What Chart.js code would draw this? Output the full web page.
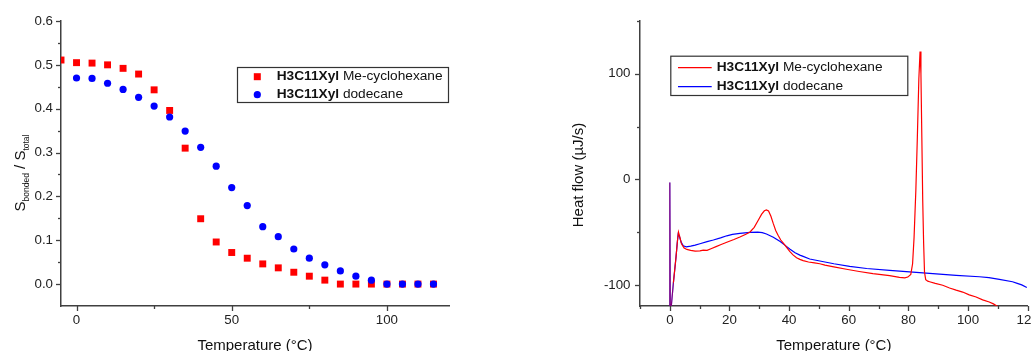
<!DOCTYPE html>
<html><head><meta charset="utf-8">
<script src="https://cdn.jsdelivr.net/npm/chart.js@4.4.0/dist/chart.umd.min.js"></script>
<style>
html,body{margin:0;padding:0;background:#fff;overflow:hidden;width:1032px;height:351px;}
#wrapL{position:absolute;left:0;top:0;width:516px;height:370px;}
#wrapR{position:absolute;left:516px;top:0;width:540px;height:370px;}
</style></head><body>
<div id="wrapL"><canvas id="cL" width="516" height="370"></canvas></div>
<div id="wrapR"><canvas id="cR" width="540" height="370"></canvas></div>
<script>
// ---------- DATA ----------
const seriesNames = ['H3C11Xyl Me-cyclohexane', 'H3C11Xyl dodecane'];

// Left panel: S_bonded / S_total vs temperature
const tempMeCyc = [-5,0,5,10,15,20,25,30,35,40,45,50,55,60,65,70,75,80,85,90,95,100,105,110,115];
const sMeCyc    = [0.511,0.505,0.504,0.500,0.492,0.479,0.443,0.396,0.310,0.149,0.096,0.072,0.059,0.046,0.037,0.027,0.018,0.009,0.000,0.000,0.000,0.000,0.000,0.000,0.000];
const tempDodec = [0,5,10,15,20,25,30,35,40,45,50,55,60,65,70,75,80,85,90,95,100,105,110,115];
const sDodec    = [0.470,0.469,0.458,0.444,0.426,0.406,0.381,0.349,0.312,0.269,0.220,0.179,0.131,0.108,0.080,0.059,0.044,0.030,0.018,0.009,0.000,0.000,0.000,0.000];

// Right panel: heat flow (µJ/s) vs temperature
const dscTempMeCyc = [0,0,0.15,0.5,1.2,2.1,2.6,2.9,3.3,3.9,4.8,5.7,7,8.5,10.1,11.2,12.5,14,15.5,17,19.1,21.5,23.5,25.5,26.9,28.3,29.6,30.8,31.7,32.4,33.1,33.9,34.7,35.5,36.3,37.2,38.2,39.1,40.2,41.3,42.5,43.6,44.7,46.5,48.5,50.3,52,55,59.2,63.5,68.1,73.7,77,78.8,79.8,80.8,81.4,81.9,82.5,83.0,83.5,83.9,84.2,84.5,84.8,85.1,85.4,85.8,86.5,87.1,89,91.5,93.8,96,98.2,100.4,102.7,104.9,107.1,108.5,109.4,110.5];
const dscHeatMeCyc = [-120,-3,-120,-120,-98,-73,-57,-50,-54,-61,-65,-66.4,-67.3,-68,-67.7,-67,-67.3,-65.5,-63.8,-62,-59.6,-57,-54.6,-52,-49.8,-45.5,-39,-33,-29.8,-29,-30,-35,-42,-48.5,-53,-57.5,-61,-64.3,-68.3,-71.6,-74.3,-75.8,-77,-78.3,-79.2,-80,-81.3,-83,-85.2,-87.3,-89.3,-91.3,-92.8,-93.3,-92.6,-90,-80,-55,-10,40,95,121,100,40,-20,-60,-88,-95,-96.5,-97,-98.5,-100.3,-103,-105,-106.8,-109.5,-111.5,-114.2,-116.2,-118,-119.5,-121.5];
const dscTempDodec = [0,0,0.15,0.5,1.2,2.1,2.5,2.8,3.2,3.8,4.5,5.5,7,8.5,10.1,12.5,14.6,17,19.1,21,23.5,26.9,29.5,31,32.4,34.7,37,39.1,40.2,42,43.6,44.7,46.9,50.3,55,60.3,66,73.7,80.4,87.1,96,103.8,107,110.5,114.9,116.5,118,119.7];
const dscHeatDodec = [-120,-3,-120,-120,-98,-73,-60,-52,-54,-59.5,-63,-64,-63.3,-62.3,-61,-59,-57.5,-55.5,-53.5,-52.2,-51.2,-50.3,-50,-50.5,-51.8,-54.8,-59,-63.5,-66,-69.5,-71.8,-73,-75.5,-77.4,-80,-82.5,-84.5,-86.2,-87.6,-89,-91,-92.3,-93.2,-94.8,-97,-98.5,-100,-102.4];

// Ticks
const xTicksL = [0,50,100];           const xTickLabelsL = ['0','50','100'];      const xMinorL = [25,75];
const yTicksL = [0,0.1,0.2,0.3,0.4,0.5,0.6]; const yTickLabelsL = ['0.0','0.1','0.2','0.3','0.4','0.5','0.6'];
const yMinorL = [0.05,0.15,0.25,0.35,0.45,0.55];
const xTicksR = [0,20,40,60,80,100,120]; const xTickLabelsR = ['0','20','40','60','80','100','120'];
const xMinorR = [-10,10,30,50,70,90,110];
const yTicksR = [-100,0,100];         const yTickLabelsR = ['-100','0','100'];    const yMinorR = [-50,50,150];

const xTitle = 'Temperature (°C)';
const yTitleR = 'Heat flow (µJ/s)';

// ---------- STYLE / PLUGINS ----------
const FONT = '"Liberation Sans", Arial, Helvetica, sans-serif';
Chart.defaults.font.family = FONT;
Chart.defaults.color = '#222';
const AXIS = '#404040';

const zip = (xs, ys) => xs.map((x, i) => ({x, y: ys[i]}));

const tickMarks = {
  id: 'tickMarks',
  afterDraw(chart, args, o) {
    const ctx = chart.ctx, a = chart.chartArea, xs = chart.scales.x, ys = chart.scales.y;
    ctx.save(); ctx.strokeStyle = AXIS; ctx.lineWidth = 1.3;
    const dx = (vals, len) => vals.forEach(v => { const p = Math.round(xs.getPixelForValue(v)) + 0.5;
      ctx.beginPath(); ctx.moveTo(p, a.bottom); ctx.lineTo(p, a.bottom + len); ctx.stroke(); });
    const dy = (vals, len) => vals.forEach(v => { const p = Math.round(ys.getPixelForValue(v)) + 0.5;
      ctx.beginPath(); ctx.moveTo(a.left, p); ctx.lineTo(a.left - len, p); ctx.stroke(); });
    dx(o.xMajor, 5); dx(o.xMinor, 3); dy(o.yMajor, 5); dy(o.yMinor, 3);
    ctx.restore();
  }
};

const boxLegend = {
  id: 'boxLegend',
  afterDraw(chart, args, o) {
    const ctx = chart.ctx;
    ctx.save();
    ctx.fillStyle = '#fff'; ctx.fillRect(o.x, o.y, o.w, o.h);
    ctx.strokeStyle = '#333'; ctx.lineWidth = 1.2; ctx.strokeRect(o.x + 0.5, o.y + 0.5, o.w, o.h);
    chart.data.datasets.forEach((ds, i) => {
      const y = o.rows[i];
      const col = o.kind === 'line' ? ds.borderColor : ds.backgroundColor;
      if (o.kind === 'line') {
        ctx.strokeStyle = col; ctx.lineWidth = 1.3;
        ctx.beginPath(); ctx.moveTo(o.lx1, y); ctx.lineTo(o.lx2, y); ctx.stroke();
      } else {
        ctx.fillStyle = col;
        if (ds.pointStyle === 'rect') ctx.fillRect(o.mx - 3.5, y - 3.5, 7, 7);
        else { ctx.beginPath(); ctx.arc(o.mx, y, 3.6, 0, Math.PI * 2); ctx.fill(); }
      }
      const lab = ds.label, k = lab.indexOf(' ');
      const bold = lab.slice(0, k), rest = lab.slice(k);
      ctx.fillStyle = '#111'; ctx.textBaseline = 'middle'; ctx.textAlign = 'left';
      ctx.font = 'bold 13.7px ' + FONT; ctx.fillText(bold, o.tx, y);
      const w = ctx.measureText(bold).width;
      ctx.font = '13.7px ' + FONT; ctx.fillText(rest, o.tx + w, y);
    });
    ctx.restore();
  }
};

const yTitlePlugin = {
  id: 'yTitle',
  afterDraw(chart, args, o) {
    const ctx = chart.ctx;
    ctx.save(); ctx.fillStyle = '#111'; ctx.textBaseline = 'alphabetic'; ctx.textAlign = 'left';
    let total = 0;
    o.segs.forEach(s => { ctx.font = s.size + 'px ' + FONT; s.w = ctx.measureText(s.text).width; total += s.w; });
    ctx.translate(o.x, o.yc); ctx.rotate(-Math.PI / 2);
    let cx = -total / 2;
    o.segs.forEach(s => { ctx.font = s.size + 'px ' + FONT; ctx.fillText(s.text, cx, s.dy); cx += s.w; });
    ctx.restore();
  }
};

function axis(min, max, ticks, labels, pad, fitProp, fitVal, title) {
  return {
    type: 'linear', min, max,
    grid: {display: false, drawTicks: false, tickLength: 0},
    border: {display: true, color: AXIS, width: 1.5},
    afterBuildTicks: s => { s.ticks = ticks.map(v => ({value: v})); },
    afterFit: s => { s[fitProp] = fitVal; },
    ticks: {autoSkip: false, maxRotation: 0, padding: pad, color: '#222', font: {size: 13.3},
            callback: v => labels[ticks.indexOf(v)]},
    title: title ? {display: true, text: title, color: '#111', font: {size: 15}, padding: {top: 0, bottom: 15}} : {display: false}
  };
}

// ---------- LEFT CHART ----------
new Chart(document.getElementById('cL'), {
  type: 'scatter',
  data: {datasets: [
    {label: seriesNames[0], data: zip(tempMeCyc, sMeCyc), pointStyle: 'rect', pointRadius: 4.9, borderWidth: 0,
     backgroundColor: '#ff0000', order: 1, clip: 0},
    {label: seriesNames[1], data: zip(tempDodec, sDodec), pointStyle: 'circle', pointRadius: 3.6, borderWidth: 0,
     backgroundColor: '#0000ff', order: 0, clip: 0}
  ]},
  options: {
    responsive: false, animation: false, devicePixelRatio: 1, events: [],
    layout: {padding: {left: 0, top: 21, right: 67, bottom: 0}},
    scales: {
      x: axis(-5, 120, xTicksL, xTickLabelsL, 6, 'height', 64, xTitle),
      y: axis(-0.05, 0.6, yTicksL, yTickLabelsL, 8, 'width', 61, null)
    },
    plugins: {
      legend: {display: false}, tooltip: {enabled: false},
      tickMarks: {xMajor: xTicksL, xMinor: xMinorL, yMajor: yTicksL, yMinor: yMinorL},
      boxLegend: {kind: 'point', x: 237, y: 67, w: 211, h: 35, rows: [76.7, 94.7], mx: 257.3, tx: 276.7},
      yTitle: {x: 25, yc: 173, segs: [
        {text: 'S', size: 15, dy: 0}, {text: 'bonded', size: 8.5, dy: 3.5},
        {text: ' / S', size: 15, dy: 0}, {text: 'total', size: 8.5, dy: 3.5}]}
    }
  },
  plugins: [tickMarks, boxLegend, yTitlePlugin]
});

// ---------- RIGHT CHART ----------
new Chart(document.getElementById('cR'), {
  type: 'scatter',
  data: {datasets: [
    {label: seriesNames[0], data: zip(dscTempMeCyc, dscHeatMeCyc), showLine: true, pointRadius: 0, borderWidth: 1.2,
     borderColor: '#ff0000', backgroundColor: '#ff0000', tension: 0,
     segment: {borderColor: c => c.p1.parsed.x < 2 ? 'rgba(255,0,0,0.5)' : '#ff0000'}},
    {label: seriesNames[1], data: zip(dscTempDodec, dscHeatDodec), showLine: true, pointRadius: 0, borderWidth: 1.2,
     borderColor: '#0000ff', backgroundColor: '#0000ff', tension: 0}
  ]},
  options: {
    responsive: false, animation: false, devicePixelRatio: 1, events: [],
    layout: {padding: {left: 0, top: 21, right: 28.3, bottom: 0}},
    scales: {
      x: axis(-10, 120, xTicksR, xTickLabelsR, 6, 'height', 64, xTitle),
      y: axis(-120, 150, yTicksR, yTickLabelsR, 9.5, 'width', 124, null)
    },
    plugins: {
      legend: {display: false}, tooltip: {enabled: false},
      tickMarks: {xMajor: xTicksR, xMinor: xMinorR, yMajor: yTicksR, yMinor: yMinorR},
      boxLegend: {kind: 'line', x: 154.3, y: 55.7, w: 237, h: 39.3, rows: [67.7, 86.7], lx1: 162, lx2: 195.7, tx: 200.7},
      yTitle: {x: 67, yc: 175, segs: [{text: yTitleR, size: 15, dy: 0}]}
    }
  },
  plugins: [tickMarks, boxLegend, yTitlePlugin]
});
</script>
</body></html>
